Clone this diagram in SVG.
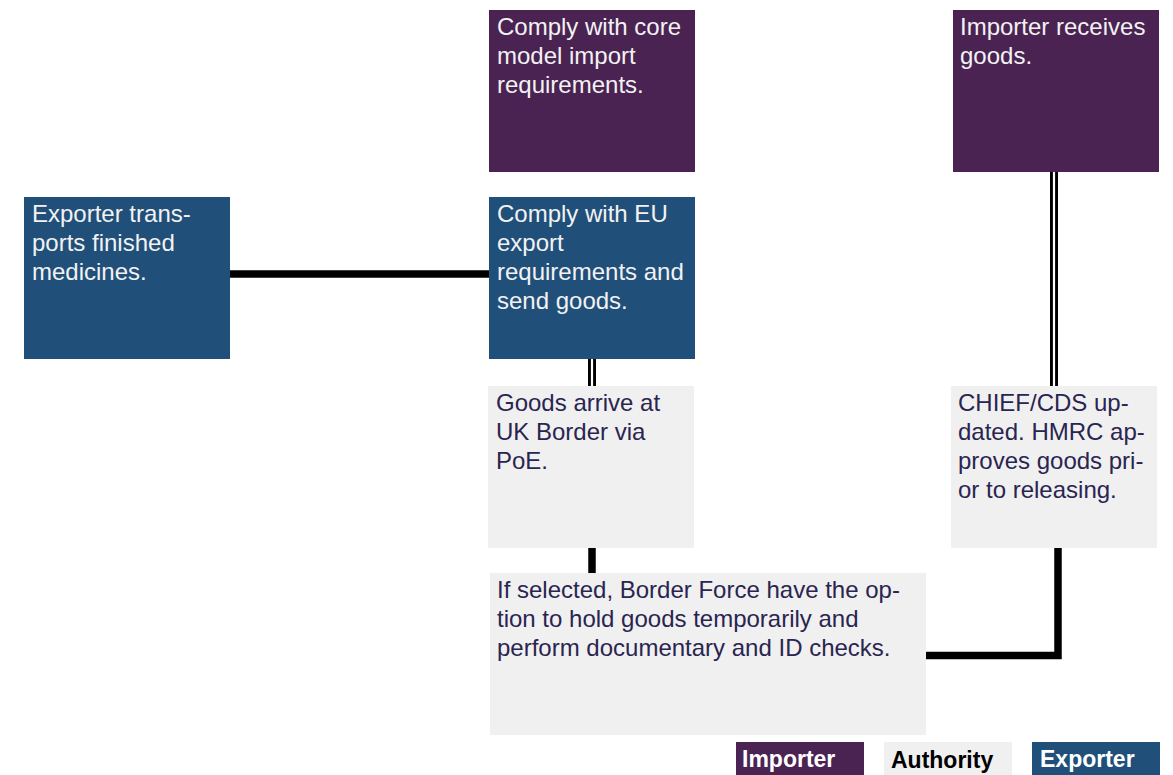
<svg xmlns="http://www.w3.org/2000/svg" width="1173" height="775" viewBox="0 0 1173 775">
  <style>
    .imp { fill: #4a2353; }
    .exp { fill: #204f7a; }
    .auth { fill: #f0f0f0; }
    .t { font-family: "Liberation Sans", Arial, sans-serif; font-size: 24px; }
    .tl { fill: #f2f2f2; }
    .td { fill: #2a2550; }
    .leg { font-family: "Liberation Sans", Arial, sans-serif; font-size: 23px; font-weight: bold; }
    .thick { stroke: #000; stroke-width: 7.5; fill: none; }
    .dbl-out { stroke: #000; stroke-width: 8; fill: none; }
    .dbl-in { stroke: #fff; stroke-width: 2.2; fill: none; }
  </style>

  <!-- connectors -->
  <g id="connectors">
    <line class="thick" x1="230" y1="274" x2="489" y2="274"/>
    <line class="dbl-out" x1="592" y1="359" x2="592" y2="386"/>
    <line class="dbl-in" x1="592" y1="359" x2="592" y2="386"/>
    <line class="thick" x1="592" y1="548" x2="592" y2="573"/>
    <polyline class="thick" points="926,655.5 1058,655.5 1058,548" stroke-linejoin="miter"/>
    <line class="dbl-out" x1="1054" y1="172" x2="1054" y2="386"/>
    <line class="dbl-in" x1="1054" y1="172" x2="1054" y2="386"/>
  </g>

  <g id="node-core-import">
    <rect class="imp" x="489" y="10" width="206" height="162"/>
    <text class="t tl" x="497" y="35">Comply with core</text>
    <text class="t tl" x="497" y="64">model import</text>
    <text class="t tl" x="497" y="93">requirements.</text>
  </g>

  <g id="node-importer-receives">
    <rect class="imp" x="953" y="10" width="206" height="162"/>
    <text class="t tl" x="960" y="35">Importer receives</text>
    <text class="t tl" x="960" y="64">goods.</text>
  </g>

  <g id="node-exporter-transports">
    <rect class="exp" x="24" y="197" width="206" height="162"/>
    <text class="t tl" x="32" y="222">Exporter trans-</text>
    <text class="t tl" x="32" y="251">ports finished</text>
    <text class="t tl" x="32" y="280">medicines.</text>
  </g>

  <g id="node-eu-export">
    <rect class="exp" x="489" y="197" width="206" height="162"/>
    <text class="t tl" x="497" y="222">Comply with EU</text>
    <text class="t tl" x="497" y="251">export</text>
    <text class="t tl" x="497" y="280">requirements and</text>
    <text class="t tl" x="497" y="309">send goods.</text>
  </g>

  <g id="node-goods-arrive">
    <rect class="auth" x="488" y="386" width="206" height="162"/>
    <text class="t td" x="496" y="411">Goods arrive at</text>
    <text class="t td" x="496" y="440">UK Border via</text>
    <text class="t td" x="496" y="469">PoE.</text>
  </g>

  <g id="node-chief-cds">
    <rect class="auth" x="951" y="386" width="206" height="162"/>
    <text class="t td" x="958" y="411">CHIEF/CDS up-</text>
    <text class="t td" x="958" y="440">dated. HMRC ap-</text>
    <text class="t td" x="958" y="469">proves goods pri-</text>
    <text class="t td" x="958" y="498">or to releasing.</text>
  </g>

  <g id="node-border-force">
    <rect class="auth" x="490" y="573" width="436" height="162"/>
    <text class="t td" x="497" y="598">If selected, Border Force have the op-</text>
    <text class="t td" x="497" y="627">tion to hold goods temporarily and</text>
    <text class="t td" x="497" y="656">perform documentary and ID checks.</text>
  </g>

  <!-- legend -->
  <g id="legend">
    <rect class="imp" x="736" y="742" width="128" height="40"/>
    <text class="leg" x="742" y="767" fill="#ffffff">Importer</text>
    <rect class="auth" x="884" y="742" width="128" height="40"/>
    <text class="leg" x="891" y="768" fill="#000000">Authority</text>
    <rect class="exp" x="1032" y="742" width="128" height="40"/>
    <text class="leg" x="1040" y="767" fill="#ffffff">Exporter</text>
  </g>
</svg>
